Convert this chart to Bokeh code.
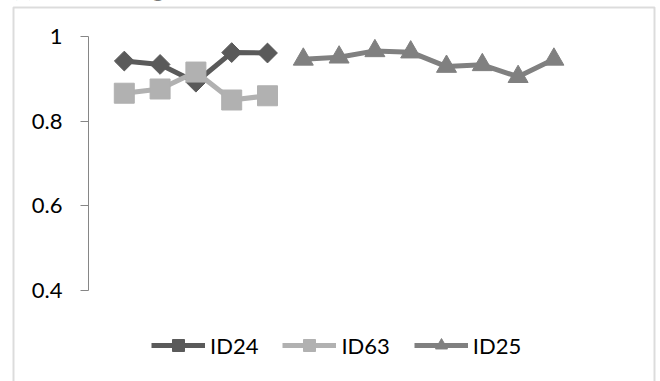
import math

from bokeh.embed import file_html
from bokeh.models import (BoxAnnotation, FixedTicker, Label, Legend,
                          LegendItem, Range1d)
from bokeh.plotting import figure
from bokeh.resources import INLINE

# --- data -------------------------------------------------------------
id24_x = [1, 2, 3, 4, 5]
id24_y = [0.942, 0.934, 0.892, 0.962, 0.961]

id63_x = [1, 2, 3, 4, 5]
id63_y = [0.866, 0.876, 0.916, 0.850, 0.860]

id25_x = [6, 7, 8, 9, 10, 11, 12, 13]
id25_y = [0.946, 0.951, 0.966, 0.963, 0.929, 0.933, 0.905, 0.946]

series_labels = ["ID24", "ID63", "ID25"]
y_ticks = [0.4, 0.6, 0.8, 1.0]
y_tick_labels = ["0.4", "0.6", "0.8", "1"]
title_text = "(c) Thresholding"

# --- layout (pixels) --------------------------------------------------
W, H = 660, 381
AXIS_X, Y_TOP, Y_BOT = 88, 36, 290          # value axis position / extent
PX_PER_CAT = 35.8                           # category spacing
Y_MIN, Y_MAX = 0.4, 1.0
px_per_y = (Y_BOT - Y_TOP) / (Y_MAX - Y_MIN)

def xv(px):   # canvas pixel -> x data value
    return (px - AXIS_X) / PX_PER_CAT

def yv(py):   # canvas pixel -> y data value
    return Y_MAX - (py - Y_TOP) / px_per_y

FONT = "Lato"
C24, C63, C25 = "#5a5a5a", "#b1b1b1", "#808080"
AXIS_GRAY = "#868686"

p = figure(width=W, height=H, output_backend="svg", toolbar_location=None,
           title=None,
           x_range=Range1d(xv(0), xv(W)), y_range=Range1d(yv(H), yv(0)),
           min_border=0)
p.xaxis.visible = False
p.xgrid.visible = False
p.ygrid.visible = False
p.outline_line_color = None
p.background_fill_color = "white"
p.border_fill_color = "white"

yax = p.yaxis[0]
yax.fixed_location = 0
yax.bounds = (Y_MIN, Y_MAX)
yax.ticker = FixedTicker(ticks=y_ticks)
yax.major_label_overrides = dict(zip(y_ticks, y_tick_labels))
yax.axis_line_color = AXIS_GRAY
yax.major_tick_line_color = AXIS_GRAY
yax.major_tick_out = 8
yax.major_tick_in = 0
yax.minor_tick_line_color = None
yax.major_label_standoff = 18
yax.major_label_text_font = FONT
yax.major_label_text_font_size = "22px"
yax.major_label_text_color = "black"

# --- series -----------------------------------------------------------
l24 = p.line(id24_x, id24_y, line_color=C24, line_width=5, line_join="round")
m24 = p.scatter(id24_x, id24_y, marker="square", angle=math.pi / 4, size=14,
                fill_color=C24, line_color=C24)

l63 = p.line(id63_x, id63_y, line_color=C63, line_width=5, line_join="round")
m63 = p.scatter(id63_x, id63_y, marker="square", size=20,
                fill_color=C63, line_color=C63)

l25 = p.line(id25_x, id25_y, line_color=C25, line_width=5, line_join="round")
m25 = p.scatter(id25_x, id25_y, marker="triangle", size=20,
                fill_color=C25, line_color=C25)

LEG_H = 30
legend = Legend(
    items=[LegendItem(label=series_labels[0], renderers=[l24, m24]),
           LegendItem(label=series_labels[1], renderers=[l63, m63]),
           LegendItem(label=series_labels[2], renderers=[l25, m25])],
    location=(151, H - 345 - LEG_H // 2), orientation="horizontal",
    glyph_width=54, glyph_height=LEG_H, label_standoff=5, spacing=24,
    padding=0, margin=0, border_line_color=None, background_fill_alpha=0,
    label_text_font=FONT, label_text_font_size="22px",
    label_text_color="black",
)
p.add_layout(legend)

# chart-area frame (open at the bottom edge of the page) and caption
frame_box = BoxAnnotation(left=xv(13), right=xv(654), top=yv(7), bottom=yv(H + 20),
                          fill_alpha=0, line_color="#8c8c8c", line_width=2)
p.add_layout(frame_box)

caption = Label(x=xv(12), y=yv(-12), text=title_text, text_font=FONT,
                text_font_size="22px", text_baseline="alphabetic",
                text_color="black")
p.add_layout(caption)

open("out.html", "w").write(file_html(p, INLINE))
